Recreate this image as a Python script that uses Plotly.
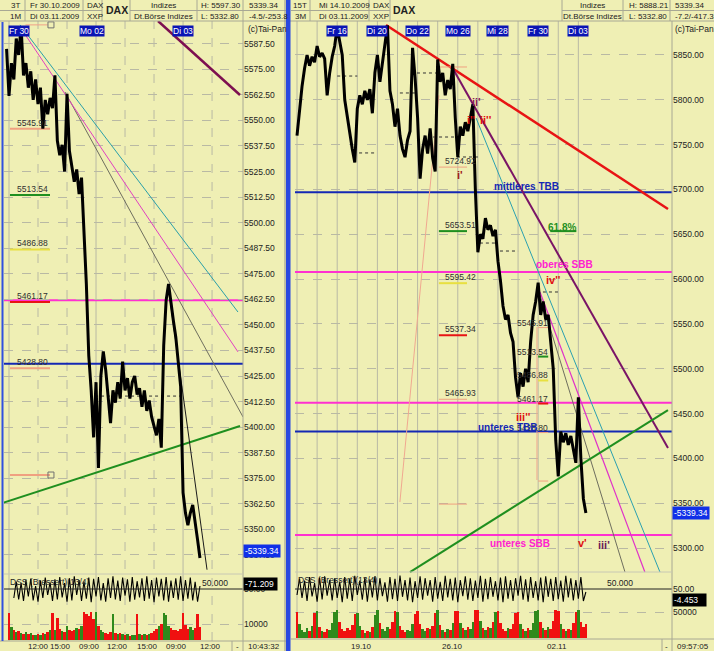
import plotly.graph_objects as go

W, H = 714, 651
BG = "#efefb4"
GRID = "#b9b9a4"
FONT = "Liberation Sans, Arial, sans-serif"
TXT = "#222222"

# ======================= DATA =======================
# ---- left panel: intraday, hours since Fr 30.10.2009 09:00 (9 h per session) ----
left_t_start = -0.25
left_t_step = 0.25
left_price = [5585, 5562, 5578, 5570, 5590, 5582, 5596, 5572, 5578, 5566,
              5574, 5560, 5570, 5558, 5566, 5546, 5560, 5553, 5561, 5556,
              5572, 5540, 5533, 5538, 5525, 5563, 5535, 5528, 5520, 5526,
              5514, 5522, 5498, 5470, 5435, 5418, 5395, 5422, 5380, 5425,
              5437, 5428, 5415, 5402, 5418, 5412, 5422, 5414, 5432, 5418,
              5424, 5414, 5422, 5425, 5416, 5419, 5410, 5418, 5408, 5413,
              5405, 5400, 5396, 5404, 5390, 5440, 5462, 5470, 5460, 5452,
              5444, 5432, 5420, 5368, 5358, 5352, 5358, 5362, 5352, 5345,
              5336]
left_dss = [None, None, None,
            20, 75, 15, 70, 10, 80, 25, 85, 12, 60,
            8, 78, 20, 88, 30, 72, 10, 82, 15, 90,
            22, 70, 8, 86, 12, 92, 30, 80, 10, 75,
            18, 88, 6, 84, 25, 90, 12, 70, 8, 86,
            20, 92, 15, 78, 10, 88, 28, 82, 8, 90,
            14, 76, 22, 86, 10, 92, 18, 80, 6, 88,
            25, 84, 12, 90, 8, 78, 20, 86, 14, 92,
            10, 80, 18, 88, 12, 74, 8, 60]
left_vol = [0, 17000, 8000, 6500, 5000, 5500, 4500, 4000, 4800, 3600,
            4200, 3300, 3000, 3800, 3200, 4500, 3800, 5200, 6000, 17000,
            6500, 14000, 7000, 5800, 5200, 8500, 6500, 5500, 6200, 7500,
            6800, 8500, 17500, 16000, 15000, 17500, 13000, 17500, 9000, 6500,
            5000, 4200, 3600, 5000, 16500, 4500, 3800, 4200, 3500, 3000,
            3600, 2800, 3400, 3000, 16000, 3600, 3000, 3800, 3200, 4000,
            4600, 5500, 7000, 8500, 10000, 17000, 15500, 9000, 7500, 6500,
            6000, 5500, 7000, 17000, 9500, 7000, 8000, 6500, 7500, 16500,
            8000]
left_price_ticks = [5337.5, 5350.0, 5362.5, 5375.0, 5387.5, 5400.0, 5412.5,
                    5425.0, 5437.5, 5450.0, 5462.5, 5475.0, 5487.5, 5500.0,
                    5512.5, 5525.0, 5537.5, 5550.0, 5562.5, 5575.0, 5587.5]
left_day_grid = [0, 9, 18]
left_hour_grid = [3, 6, 12, 15, 21]
left_time_labels = ["12:00", "15:00", "09:00", "12:00", "15:00", "09:00", "12:00"]
left_time_label_pos = [3.0, 5.3, 8.3, 11.2, 14.3, 17.3, 20.8]
left_day_labels = ["Fr 30", "Mo 02", "Di 03"]
left_day_label_pos = [1.0, 8.6, 18.0]

left_trend = {
    "green": ([-0.62, 23.89], [5363.0, 5400.6]),
    "gray": ([5.79, 24.2], [5563.9, 5405.0]),
    "black": ([16.65, 20.48], [5462.3, 5330.3]),
    "pink": ([1.14, 23.68], [5595.7, 5436.8]),
    "teal": ([1.14, 23.68], [5596.7, 5456.3]),
    "purple": ([15.41, 23.89], [5598.6, 5562.4]),
    "salmon_top": ([1.7, 4.0], [5596.7, 5596.7]),
}
left_hlines = [5462.0, 5431.0]
left_levels = [5545.91, 5513.54, 5486.88, 5461.17, 5428.80, 5376.6]
left_level_labels = ["5545.91", "5513.54", "5486.88", "5461.17", "5428.80", ""]
left_level_x = [0.1, 4.24]
left_dotted = [(8.9, 17.9, 5415.2)]
left_squares_t = [4.34, 4.34]
left_squares_p = [5596.7, 5376.6]

# ---- right panel: 15 trading days, days since Mi 14.10.2009 ----
right_d_start = 0.0
right_d_step = 0.125
right_price = [5760, 5790, 5815, 5835, 5850, 5838, 5848, 5842, 5860, 5848,
               5852, 5846, 5805, 5830, 5848, 5860, 5881, 5865, 5850, 5800,
               5780, 5760, 5745, 5730, 5790, 5805, 5795, 5810, 5800, 5812,
               5785, 5830, 5850, 5820, 5840, 5865, 5883, 5810, 5795, 5770,
               5790, 5760, 5745, 5736, 5755, 5765, 5858, 5825, 5780, 5712,
               5745, 5760, 5740, 5768, 5735, 5720, 5845, 5820, 5830, 5805,
               5822, 5812, 5840, 5780, 5736, 5770, 5760, 5775, 5765, 5780,
               5795, 5700, 5630, 5650, 5645, 5668, 5655, 5660, 5648, 5655,
               5620, 5598, 5570, 5555, 5560, 5540, 5530, 5490, 5468, 5495,
               5480, 5500, 5485, 5530, 5560, 5575, 5596, 5560, 5575, 5555,
               5560, 5530, 5500, 5420, 5380, 5430, 5418, 5428, 5415, 5425,
               5410, 5395, 5468, 5400, 5355, 5339]
right_dss = [30, 85, 20, 78, 10, 90, 25, 70, 8, 88,
             15, 92, 28, 80, 12, 86, 20, 75, 6, 90,
             18, 84, 10, 94, 30, 78, 14, 88, 8, 82,
             22, 92, 12, 86, 26, 72, 8, 90, 16, 84,
             10, 95, 24, 80, 12, 88, 6, 76, 20, 92,
             14, 86, 28, 80, 8, 90, 18, 74, 10, 94,
             22, 84, 12, 88, 6, 80, 26, 92, 14, 86,
             10, 78, 20, 94, 8, 84, 16, 90, 24, 76,
             12, 88, 6, 92, 18, 80, 10, 86, 28, 94,
             14, 82, 8, 90, 20, 76, 12, 88, 6, 92,
             24, 84, 10, 90, 16, 78, 8, 94, 22, 86,
             12, 80, 18, 90, 10, 40]
right_vol = [50000, 26000, 16000, 12000, 19000, 13000, 24000, 48000,
             52000, 22000, 14000, 11000, 17000, 15000, 28000, 50000,
             54000, 30000, 18000, 13000, 20000, 16000, 25000, 47000,
             49000, 24000, 15000, 10000, 14000, 12000, 21000, 44000,
             53000, 28000, 17000, 14000, 22000, 18000, 30000, 51000,
             50000, 23000, 15000, 12000, 16000, 14000, 26000, 46000,
             52000, 27000, 18000, 13000, 19000, 17000, 24000, 49000,
             54000, 25000, 16000, 12000, 18000, 15000, 28000, 52000,
             51000, 29000, 19000, 15000, 21000, 18000, 31000, 53000,
             54000, 32000, 20000, 16000, 22000, 19000, 30000, 50000,
             52000, 28000, 18000, 14000, 20000, 17000, 27000, 48000,
             50000, 26000, 17000, 13000, 19000, 16000, 29000, 51000,
             53000, 30000, 19000, 15000, 21000, 18000, 33000, 54000,
             52000, 27000, 17000, 14000, 18000, 16000, 28000, 50000,
             54000, 30000, 22000, 26000]
right_price_ticks = [5300, 5350, 5400, 5450, 5500, 5550, 5600, 5650, 5700, 5750, 5800, 5850]
right_day_grid = [0, 1, 2, 3, 4, 5, 6, 7, 8, 9, 10, 11, 12, 13, 14]
right_week_labels = ["19.10", "26.10", "02.11"]
right_week_label_pos = [3.23, 7.76, 12.94]
right_day_labels = ["Fr 16", "Di 20", "Do 22", "Mo 26", "Mi 28", "Fr 30", "Di 03"]
right_day_label_pos = [2, 4, 6, 8, 10, 12, 14]

right_trend = {
    "red": ([4.43, 18.46], [5883.4, 5678.2]),
    "purple": ([7.71, 18.46], [5836.6, 5411.6]),
    "teal": ([8.91, 18.06], [5779.7, 5273.2]),
    "pink": ([12.09, 17.31], [5585.6, 5273.2]),
    "gray": ([12.09, 16.32], [5582.2, 5273.2]),
    "green": ([5.62, 18.46], [5273.2, 5453.9]),
    "salmon": ([5.12, 7.06], [5351.3, 5805.0]),
    "salmon_v": ([11.94, 11.94], [5546.5, 5375.9]),
}
right_hlines = [5697.0, 5608.0, 5462.0, 5430.0, 5314.5]
right_levels_a = [5836.6, 5724.92, 5653.51, 5595.42, 5537.34, 5465.93, 5349.0]
right_levels_a_labels = ["", "5724.92", "5653.51", "5595.42", "5537.34", "5465.93", ""]
right_levels_a_x = [7.06, 8.46]
right_levels_b = [5545.91, 5513.54, 5486.88, 5461.17, 5428.80, 5374.7]
right_levels_b_labels = ["5545.91", "5513.54", "5486.88", "5461.17", "5428.80", ""]
right_levels_b_x = [12.0, 12.5]
right_fib_level = 5653.51
right_fib_x = [12.6, 13.9]
right_dotted = [(2.0, 3.0, 5826.5), (5.12, 5.97, 5807.6), (5.97, 6.97, 5829.9),
                (2.79, 3.98, 5740.7), (6.77, 7.86, 5758.5), (7.96, 9.0, 5736.2),
                (9.1, 9.95, 5640.2), (10.1, 11.0, 5631.3), (12.24, 12.99, 5585.6)]
right_zone_labels = ["mittleres TBB", "61.8%", "oberes SBB", "unteres TBB", "unteres SBB"]
right_zone_pos = [(11.4, 5703.8), (13.2, 5658.0), (13.3, 5616.8), (10.45, 5433.9), (11.1, 5304.5)]
right_wave_labels = ["ii'", "i''", "ii''", "i'", "iv''", "iii''", "v'", "iii'"]
right_wave_pos = [(8.91, 5797.5), (8.66, 5777.5), (9.4, 5777.5), (8.1, 5716.0),
                  (12.74, 5599.0), (11.29, 5446.0), (14.23, 5305.6), (15.27, 5303.3)]

last_price = 5339.34
left_header = [["3T", "Fr 30.10.2009", "DAX", "Indizes", "H: 5597.30", "5339.34"],
               ["1M", "Di 03.11.2009", "XXP", "Dt.Börse Indizes", "L: 5332.80", "-4.5/-253.8"]]
right_header = [["15T", "Mi 14.10.2009", "DAX", "Indizes", "H: 5888.21", "5339.34"],
                ["3M", "Di 03.11.2009", "XXP", "Dt.Börse Indizes", "L: 5332.80", "-7.2/-417.3"]]

# ======================= LAYOUT HELPERS =======================
def PX(x):
    return x / W

def PY(y):
    return 1 - y / H

left_t = [left_t_start + i * left_t_step for i in range(len(left_price))]
right_d = [right_d_start + i * right_d_step for i in range(len(right_price))]

RED, GREEN = "#f01010", "#2f8a1c"
def vol_colors(prices):
    out = [RED]
    for i in range(1, len(prices)):
        out.append(GREEN if prices[i] > prices[i - 1] else RED)
    return out

fig = go.Figure()
shapes = []
ann = []

def line_trace(xs, ys, xa, ya, color, width, dash="solid"):
    fig.add_trace(go.Scatter(x=xs, y=ys, xaxis=xa, yaxis=ya, mode="lines",
                             line=dict(color=color, width=width, dash=dash),
                             hoverinfo="skip", showlegend=False))

# ---------- vertical grid lines (through price, dss, volume) ----------
for t in left_day_grid:
    shapes.append(dict(type="line", xref="x", yref="paper", x0=t, x1=t, y0=PY(641), y1=PY(21),
                       line=dict(color=GRID, width=1), layer="below"))
for t in left_hour_grid:
    shapes.append(dict(type="line", xref="x", yref="paper", x0=t, x1=t, y0=PY(641), y1=PY(21),
                       line=dict(color=GRID, width=1, dash="dash"), layer="below"))
for d in right_day_grid:
    shapes.append(dict(type="line", xref="x2", yref="paper", x0=d, x1=d, y0=PY(638), y1=PY(21),
                       line=dict(color=GRID, width=1), layer="below"))

# ---------- horizontal level lines ----------
for p, c in zip(left_hlines, ["#ff30d0", "#1428b4"]):
    shapes.append(dict(type="line", xref="x domain", yref="y", x0=0, x1=1, y0=p, y1=p,
                       line=dict(color=c, width=2), layer="below"))
for p, c in zip(right_hlines, ["#1428b4", "#ff30d0", "#ff30d0", "#1428b4", "#ff30d0"]):
    shapes.append(dict(type="line", xref="x2 domain", yref="y4", x0=0, x1=1, y0=p, y1=p,
                       line=dict(color=c, width=2), layer="below"))
for t0, t1, p in left_dotted:
    shapes.append(dict(type="line", xref="x", yref="y", x0=t0, x1=t1, y0=p, y1=p,
                       line=dict(color="#333333", width=1, dash="dot"), layer="below"))
for d0, d1, p in right_dotted:
    shapes.append(dict(type="line", xref="x2", yref="y4", x0=d0, x1=d1, y0=p, y1=p,
                       line=dict(color="#333333", width=1, dash="dot"), layer="below"))

# DSS 50 lines
shapes.append(dict(type="line", xref="paper", yref="y2", x0=PX(4), x1=PX(243), y0=50, y1=50,
                   line=dict(color="#222222", width=1)))
shapes.append(dict(type="line", xref="paper", yref="y5", x0=PX(295), x1=PX(672), y0=50, y1=50,
                   line=dict(color="#222222", width=1)))

# ---------- trend lines ----------
lstyle = {"green": ("#1f8f1f", 2), "gray": ("#6e6e5e", 1), "black": ("#1a1a1a", 1),
          "pink": ("#e040c0", 1), "teal": ("#2a9fa8", 1), "purple": ("#7d1050", 2.5),
          "salmon_top": ("#f0a088", 1)}
for k, (xs, ys) in left_trend.items():
    c, w = lstyle[k]
    line_trace(xs, ys, "x", "y", c, w)
rstyle = {"red": ("#e81414", 2.5), "purple": ("#7a1466", 2), "teal": ("#2aa0b0", 1),
          "pink": ("#e030c8", 1.2), "gray": ("#6e6e5e", 1), "green": ("#1f8f1f", 2),
          "salmon": ("#f0a890", 1), "salmon_v": ("#f0a890", 1)}
for k, (xs, ys) in right_trend.items():
    c, w = rstyle[k]
    line_trace(xs, ys, "x2", "y4", c, w)

# ---------- short level markers ----------
lvl_cols_left = ["#f0a080", "#1f8f1f", "#e8e040", "#e81414", "#f0a080", "#f0a080"]
for p, lab, c in zip(left_levels, left_level_labels, lvl_cols_left):
    line_trace(left_level_x, [p, p], "x", "y", c, 2)
    if lab:
        ann.append(dict(x=0.62, y=p, xref="x", yref="y", text=lab, showarrow=False,
                        xanchor="left", yanchor="middle", yshift=6,
                        font=dict(size=8.5, color="#303030", family=FONT)))
fig.add_trace(go.Scatter(x=left_squares_t, y=left_squares_p, xaxis="x", yaxis="y", mode="markers",
                         marker=dict(symbol="square-open", size=6, color="#707070", line=dict(width=1)),
                         hoverinfo="skip", showlegend=False))
lvl_cols_a = ["#f0a080", "#f0a080", "#1f8f1f", "#e8e040", "#e81414", "#f0a080", "#f0a080"]
for p, lab, c in zip(right_levels_a, right_levels_a_labels, lvl_cols_a):
    line_trace(right_levels_a_x, [p, p], "x2", "y4", c, 2 if c != "#f0a080" else 1)
    if lab:
        ann.append(dict(x=7.26, y=p, xref="x2", yref="y4", text=lab, showarrow=False,
                        xanchor="left", yanchor="middle", yshift=6,
                        font=dict(size=8.5, color="#303030", family=FONT)))
lvl_cols_b = ["#f0a080", "#1f8f1f", "#e8e040", "#e81414", "#f0a080", "#f0a080"]
for p, lab, c in zip(right_levels_b, right_levels_b_labels, lvl_cols_b):
    line_trace(right_levels_b_x, [p, p], "x2", "y4", c, 2 if c != "#f0a080" else 1)
    if lab:
        ann.append(dict(x=10.85, y=p, xref="x2", yref="y4", text=lab, showarrow=False,
                        xanchor="left", yanchor="middle", yshift=5,
                        font=dict(size=8.5, color="#303030", family=FONT)))
line_trace(right_fib_x, [right_fib_level, right_fib_level], "x2", "y4", "#1f8f1f", 2)

# ---------- price lines ----------
line_trace(left_t, left_price, "x", "y", "#000000", 3)
line_trace(right_d, right_price, "x2", "y4", "#000000", 3)

# ---------- DSS ----------
line_trace(left_t, left_dss, "x", "y2", "#000000", 1.1)
line_trace(right_d, right_dss, "x2", "y5", "#000000", 1.1)

# ---------- volume ----------
fig.add_trace(go.Bar(x=left_t, y=left_vol, xaxis="x", yaxis="y3", width=left_t_step,
                     marker=dict(color=vol_colors(left_price), line=dict(width=0)),
                     hoverinfo="skip", showlegend=False))
fig.add_trace(go.Bar(x=right_d, y=right_vol, xaxis="x2", yaxis="y6", width=right_d_step,
                     marker=dict(color=vol_colors(right_price), line=dict(width=0)),
                     hoverinfo="skip", showlegend=False))

# ---------- chart texts ----------
zone_cols = ["#1428b4", "#1f8f1f", "#ff20d0", "#1428b4", "#ff20d0"]
for lab, (d, p), c in zip(right_zone_labels, right_zone_pos, zone_cols):
    ann.append(dict(x=d, y=p, xref="x2", yref="y4", text="<b>%s</b>" % lab, showarrow=False,
                    font=dict(size=10, color=c, family=FONT)))
wave_cols = ["#8a1a5a", "#e01010", "#e01010", "#a01818", "#e01010", "#e01010", "#e01010", "#6a1a5a"]
for lab, (d, p), c in zip(right_wave_labels, right_wave_pos, wave_cols):
    ann.append(dict(x=d, y=p, xref="x2", yref="y4", text="<b>%s</b>" % lab, showarrow=False,
                    font=dict(size=11, color=c, family=FONT)))

# date boxes
for lab, t in zip(left_day_labels, left_day_label_pos):
    ann.append(dict(x=t, y=PY(25.5), xref="x", yref="paper", text=lab, showarrow=False,
                    bgcolor="#0a14b4", borderpad=0, font=dict(size=8.5, color="white", family=FONT)))
for lab, d in zip(right_day_labels, right_day_label_pos):
    ann.append(dict(x=d, y=PY(25.5), xref="x2", yref="paper", text=lab, showarrow=False,
                    bgcolor="#0a14b4", borderpad=0, font=dict(size=8.5, color="white", family=FONT)))

# bottom time labels
for lab, t in zip(left_time_labels, left_time_label_pos):
    ann.append(dict(x=t, y=PY(646), xref="x", yref="paper", text=lab, showarrow=False,
                    yanchor="middle", font=dict(size=8, color=TXT, family=FONT)))
for lab, d in zip(right_week_labels, right_week_label_pos):
    ann.append(dict(x=d, y=PY(646), xref="x2", yref="paper", text=lab, showarrow=False,
                    yanchor="middle", font=dict(size=8, color=TXT, family=FONT)))

def ptext(x, y, text, anchor="left", size=8.5, color=TXT, bold=False, bg=None):
    d = dict(x=PX(x), y=PY(y), xref="paper", yref="paper", text=("<b>%s</b>" % text) if bold else text,
             showarrow=False, xanchor=anchor, yanchor="middle",
             font=dict(size=size, color=color, family=FONT))
    if bg:
        d["bgcolor"] = bg
        d["borderpad"] = 1
    ann.append(d)

# header
lh_x = [(15, "center"), (28, "left"), (85, "left"), (163, "center"), (199, "left"), (247, "left")]
rh_x = [(300, "center"), (317, "left"), (371, "left"), (592, "center"), (627, "left"), (673, "left")]
for row, yy in zip(range(2), [5.5, 16]):
    for (x, a), txt in zip(lh_x, left_header[row]):
        ptext(x, yy, txt, a, size=8)
    for (x, a), txt in zip(rh_x, right_header[row]):
        ptext(x, yy, txt, a, size=8)
ptext(117, 10, "DAX", "center", size=10.5, bold=True)
ptext(404, 10, "DAX", "center", size=10.5, bold=True)
ptext(246, 29, "(c)Tai-Pan")
ptext(673, 29, "(c)Tai-Pan")

# DSS labels
ptext(8, 582, "DSS (Bressert)(13/4)")
ptext(296, 580, "DSS (Bressert)(13/4)")
ptext(200, 583, "50.000")
ptext(605, 583, "50.000")
ptext(243, 583.5, "-71.209 ", color="white", bg="#000000")
ptext(672, 600, "-4.453   ", color="white", bg="#000000")
# current price boxes
ann.append(dict(x=PX(243), y=last_price, xref="paper", yref="y", text="-5339.34", showarrow=False,
                xanchor="left", yanchor="middle", bgcolor="#1030e8", borderpad=1,
                font=dict(size=8.5, color="white", family=FONT)))
ann.append(dict(x=PX(672), y=last_price, xref="paper", yref="y4", text="-5339.34", showarrow=False,
                xanchor="left", yanchor="middle", bgcolor="#1030e8", borderpad=1,
                font=dict(size=8.5, color="white", family=FONT)))
# bottom row
ptext(237, 646, "-", "center", size=8)
ptext(246, 646, "10:43:32", size=8)
ptext(666, 646, "-", "center", size=8)
ptext(675, 646, "09:57:05", size=8)

# ---------- frame / header lines ----------
SEP = "#a8a894"
def pline(x0, y0, x1, y1, color=SEP, width=1):
    shapes.append(dict(type="line", xref="paper", yref="paper", x0=PX(x0), x1=PX(x1),
                       y0=PY(y0), y1=PY(y1), line=dict(color=color, width=width)))

pline(0, 21, 714, 21)
pline(0, 10.5, 102, 10.5); pline(130, 10.5, 286, 10.5)
pline(291, 10.5, 390, 10.5); pline(562, 10.5, 714, 10.5)
for x in [25, 83, 102, 130, 197, 243]:
    pline(x, 0, x, 21)
for x in [310, 369, 390, 562, 623, 670]:
    pline(x, 0, x, 21)
pline(243, 21, 243, 651)
pline(672, 21, 672, 651)
pline(4, 574, 243, 574, "#c8c8b4")
pline(295, 572, 672, 572, "#c8c8b4")
pline(0, 641, 286, 641)
pline(291, 639, 714, 639)
pline(232, 641, 232, 651)
pline(662, 639, 662, 651)
# blue borders
shapes.append(dict(type="rect", xref="paper", yref="paper", x0=PX(286), x1=PX(290.5), y0=0, y1=1,
                   fillcolor="#2848e0", line=dict(width=0)))
pline(285, 0, 285, 651, "#909090")
shapes.append(dict(type="rect", xref="paper", yref="paper", x0=PX(1.5), x1=PX(3.5), y0=PY(641), y1=PY(22),
                   fillcolor="#3050e0", line=dict(width=0)))

# ======================= AXES =======================
def yax(domain, rng, anchor, tickvals=None, ticktext=None, grid=False):
    return dict(domain=domain, range=rng, anchor=anchor, side="right", showline=False,
                zeroline=False, ticks="", tickvals=tickvals or [], ticktext=ticktext or [],
                showticklabels=bool(tickvals), showgrid=grid, gridcolor=GRID, griddash="dash",
                gridwidth=1, tickfont=dict(size=8.5, color=TXT, family=FONT), fixedrange=True)

price_dom = [PY(574), PY(21)]
dss_dom = [PY(604), PY(574)]
vol_dom = [PY(641), PY(604)]

xcommon = dict(showticklabels=False, showgrid=False, zeroline=False, showline=False, ticks="", fixedrange=True)
fig.update_layout(
    width=W, height=H, margin=dict(l=0, r=0, t=0, b=0),
    paper_bgcolor=BG, plot_bgcolor=BG, showlegend=False, bargap=0,
    font=dict(family=FONT, size=9, color=TXT),
    xaxis=dict(domain=[PX(4), PX(243)], range=[-0.517, 24.2], anchor="y3", **xcommon),
    xaxis2=dict(domain=[PX(295), PX(672)], range=[-0.1, 18.66], anchor="y6", **xcommon),
    yaxis=yax(price_dom, [5328.2, 5598.6], "x", left_price_ticks,
              ["%.2f" % v for v in left_price_ticks], grid=True),
    yaxis2=yax(dss_dom, [0, 100], "x", [50], ["50.00"]),
    yaxis3=yax(vol_dom, [-625, 22500], "x", [10000], ["10000"], grid=True),
    yaxis4=yax(price_dom, [5271.0, 5887.9], "x2", right_price_ticks,
               ["%.2f" % v for v in right_price_ticks], grid=True),
    yaxis5=yax(dss_dom, [0, 100], "x2", [50], ["50.00"]),
    yaxis6=yax(vol_dom, [-5770, 65400], "x2", [50000], ["50000"], grid=True),
    shapes=shapes, annotations=ann,
)

fig.write_html("out.html", config={"displayModeBar": False},
               post_script="document.body.style.margin='0';document.body.style.overflow='hidden';")
